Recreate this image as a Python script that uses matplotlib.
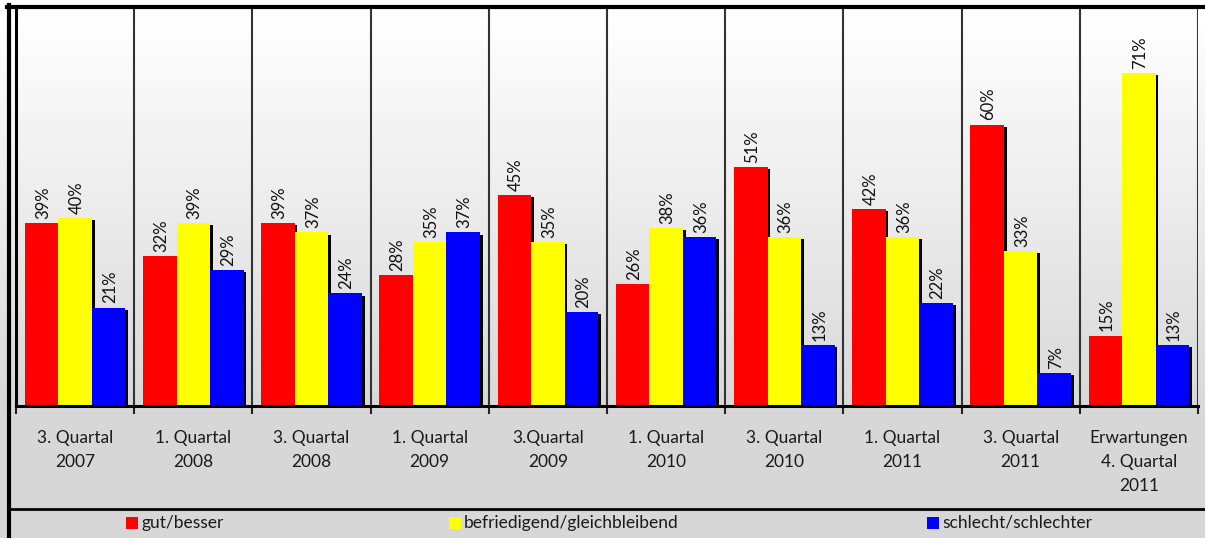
import numpy as np
import matplotlib
matplotlib.use("Agg")
import matplotlib.pyplot as plt
import matplotlib.patheffects as pe
from matplotlib.patches import Rectangle
from matplotlib.lines import Line2D

# ========= 数据 =========
categories = ["3. Quartal\n2007", "1. Quartal\n2008", "3. Quartal\n2008", "1. Quartal\n2009",
              "3.Quartal\n2009", "1. Quartal\n2010", "3. Quartal\n2010", "1. Quartal\n2011",
              "3. Quartal\n2011", "Erwartungen\n4. Quartal\n2011"]
gut = [39, 32, 39, 28, 45, 26, 51, 42, 60, 15]
befriedigend = [40, 39, 37, 35, 35, 38, 36, 36, 33, 71]
schlecht = [21, 29, 24, 37, 20, 36, 13, 22, 7, 13]
series_names = ["gut/besser", "befriedigend/gleichbleibend", "schlecht/schlechter"]
colors = ["#ff0000", "#ffff00", "#0000ff"]

plt.rcParams["font.family"] = ["Lato", "DejaVu Sans"]

W, H = 1205, 538
fig = plt.figure(figsize=(W / 100, H / 100), dpi=100)

# ========= 背景渐变 =========
bg = fig.add_axes([0, 0, 1, 1], zorder=-5)
ys = np.arange(H)
shade = np.where(ys < 8, 1.0, 1.0 - np.clip((ys - 8) / (420 - 8), 0, 1) * (1 - 0.84))
grad = np.repeat(shade[:, None], 2, axis=1)
bg.imshow(grad, cmap="gray", vmin=0, vmax=1, aspect="auto", extent=[0, 1, 0, 1], origin="upper")
bg.set_xlim(0, 1)
bg.set_ylim(0, 1)
bg.axis("off")

# ========= 主图 =========
left, right, top, base = 16, 1198, 8, 406
ax = fig.add_axes([left / W, (H - base) / H, (right - left) / W, (base - top) / H])
ax.patch.set_visible(False)

n = len(categories)
x = np.arange(n)
bw = 0.284
offsets = [-bw, 0, bw]
shadow = [pe.SimplePatchShadow(offset=(2, -1.5), shadow_rgbFace="black", alpha=1.0), pe.Normal()]

for vals, off, c in zip([gut, befriedigend, schlecht], offsets, colors):
    bars = ax.bar(x + 0.5 + off, vals, width=bw, color=c, edgecolor="none", zorder=3)
    for b in bars:
        b.set_path_effects(shadow)
    for xi, v in zip(x, vals):
        ax.annotate(f"{v}%", (xi + 0.5 + off, v), xytext=(1, 3), textcoords="offset points",
                    rotation=90, ha="center", va="bottom", fontsize=12, color="#111111", zorder=4)

ax.set_xlim(0, n)
ax.set_ylim(0, (base - top) / 4.69)

# 分隔线
ax.vlines(np.arange(1, n + 1), 0, ax.get_ylim()[1], color="#333333", lw=1.5, zorder=1)

for s in ["top", "right"]:
    ax.spines[s].set_visible(False)
ax.spines["left"].set_linewidth(2.2)
ax.spines["bottom"].set_linewidth(2.2)
ax.spines["bottom"].set_zorder(5)
ax.set_yticks([])

ax.set_xticks(np.arange(0, n + 1))
ax.set_xticklabels([])
ax.tick_params(axis="x", which="major", direction="out", length=6, width=1.5, color="#222222")
ax.set_xticks(x + 0.5, minor=True)
ax.set_xticklabels(categories, minor=True, fontsize=12.5, color="#1a1a1a", linespacing=1.62)
ax.tick_params(axis="x", which="minor", length=0, pad=17)

# ========= 外框 =========
fig.add_artist(Line2D([8.5 / W, 8.5 / W], [0, 1 - 5 / H], color="black", lw=3, transform=fig.transFigure))
fig.add_artist(Line2D([7 / W, 1], [1 - 6.5 / H, 1 - 6.5 / H], color="black", lw=3, transform=fig.transFigure))
fig.add_artist(Line2D([8 / W, 1], [1 - 508.5 / H, 1 - 508.5 / H], color="black", lw=2, transform=fig.transFigure))

# ========= 图例 =========
legend_x = [126, 449, 927]
for name, c, lx in zip(series_names, colors, legend_x):
    fig.add_artist(Rectangle((lx / W, 1 - 529 / H), 12 / W, 12 / H, facecolor=c, edgecolor="none",
                             transform=fig.transFigure))
    fig.text((lx + 15) / W, 1 - 523 / H, name, ha="left", va="center", fontsize=12.5, color="#1a1a1a")

fig.savefig("out.png", dpi=100)
